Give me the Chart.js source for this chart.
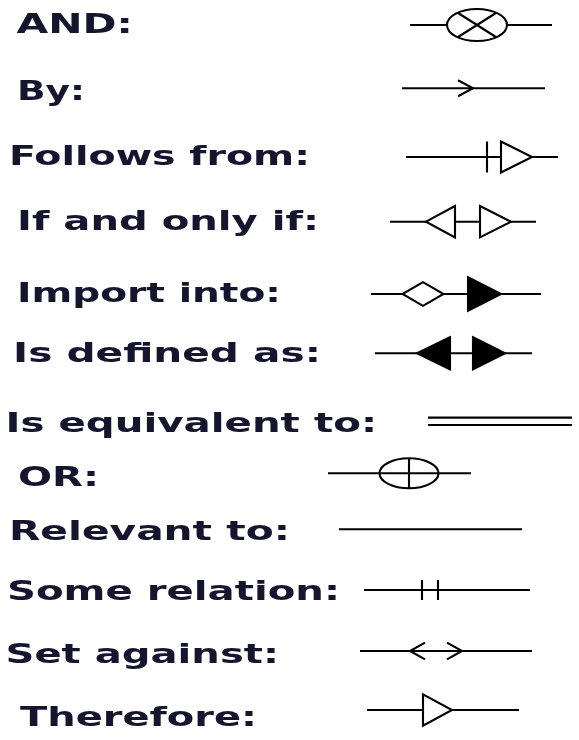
<!DOCTYPE html>
<html><head><meta charset="utf-8">
<script src="https://cdn.jsdelivr.net/npm/chart.js@4"></script>
<style>html,body{margin:0;padding:0;background:#fff;}#wrap{width:579px;height:740px;}</style>
</head><body><div id="wrap"><canvas id="c" width="579" height="740"></canvas></div>
<script>
// ---- data ----
const labels = ['AND:', 'By:', 'Follows from:', 'If and only if:', 'Import into:', 'Is defined as:',
  'Is equivalent to:', 'OR:', 'Relevant to:', 'Some relation:', 'Set against:', 'Therefore:'];
const symbols = ['and', 'by', 'follows', 'iff', 'import', 'defined',
  'equiv', 'or', 'relevant', 'some', 'setagainst', 'therefore'];

// ---- layout (positions in the 579x740 frame) ----
const rowY     = [25, 88.3, 157, 221.7, 294, 353.3, 421.3, 473.3, 529.3, 590, 651, 710];
const lineX0   = [410, 402, 406, 390, 371, 375, 428, 328, 339, 364, 360, 367];
const lineX1   = [552, 545, 558, 536, 541, 532, 572, 471, 522, 530, 532, 519];
const glyphX   = [477, 473, 501, 467.5, 423, 461.5, 500, 409, 430, 430, 436, 423];
const textX    = [16.6, 17, 9, 17, 17, 13, 5.5, 18, 9, 7, 5.5, 20];
const textX1   = [133, 85, 310, 319, 281, 321, 377, 99, 290, 340, 279, 257];
const textBase = [33.3, 100, 165, 230, 301.7, 362, 431.7, 486, 540, 600, 663.3, 726];

const INK = '#000';
const LW = 2.1;

// horizontal connecting lines as line datasets
const datasets = [];
symbols.forEach((s, i) => {
  const ys = s === 'equiv' ? [rowY[i] - 3.7, rowY[i] + 3.7] : [rowY[i]];
  ys.forEach(y => datasets.push({
    data: [{x: lineX0[i], y: y}, {x: lineX1[i], y: y}],
    showLine: true, borderColor: INK, borderWidth: LW, pointRadius: 0, fill: false
  }));
});

function tri(ctx, baseX, apexX, cy, h, filled) {
  ctx.beginPath();
  ctx.moveTo(baseX, cy - h); ctx.lineTo(apexX, cy); ctx.lineTo(baseX, cy + h); ctx.closePath();
  ctx.fillStyle = filled ? INK : '#fff';
  ctx.fill(); ctx.stroke();
}
function seg(ctx, x0, y0, x1, y1) { ctx.beginPath(); ctx.moveTo(x0, y0); ctx.lineTo(x1, y1); ctx.stroke(); }

const glyphPlugin = {
  id: 'glyphs',
  afterDatasetsDraw(chart) {
    const ctx = chart.ctx, sx = chart.scales.x, sy = chart.scales.y;
    ctx.save();
    ctx.strokeStyle = INK; ctx.lineWidth = LW; ctx.lineJoin = 'miter';
    symbols.forEach((s, i) => {
      const cx = sx.getPixelForValue(glyphX[i]), cy = sy.getPixelForValue(rowY[i]);
      if (s === 'and') {
        const rx = 30, ry = 16;
        ctx.beginPath(); ctx.ellipse(cx, cy, rx, ry, 0, 0, Math.PI * 2);
        ctx.fillStyle = '#fff'; ctx.fill(); ctx.stroke();
        const a = 50 * Math.PI / 180, dx = rx * Math.cos(a), dy = ry * Math.sin(a);
        seg(ctx, cx - dx, cy - dy, cx + dx, cy + dy);
        seg(ctx, cx - dx, cy + dy, cx + dx, cy - dy);
      } else if (s === 'by') {
        ctx.beginPath(); ctx.moveTo(cx - 15, cy - 8); ctx.lineTo(cx, cy); ctx.lineTo(cx - 15, cy + 8); ctx.stroke();
      } else if (s === 'follows') {
        seg(ctx, cx - 14, cy - 15.5, cx - 14, cy + 15.5);
        tri(ctx, cx, cx + 31, cy, 15.5, false);
      } else if (s === 'iff') {
        tri(ctx, cx - 12.5, cx - 41.5, cy, 15.7, false);
        tri(ctx, cx + 12.5, cx + 43.5, cy, 15.7, false);
      } else if (s === 'import') {
        ctx.beginPath();
        ctx.moveTo(cx - 20.5, cy); ctx.lineTo(cx, cy - 11.8); ctx.lineTo(cx + 20.5, cy); ctx.lineTo(cx, cy + 11.8); ctx.closePath();
        ctx.fillStyle = '#fff'; ctx.fill(); ctx.stroke();
        tri(ctx, cx + 45, cx + 78, cy, 16.7, true);
      } else if (s === 'defined') {
        tri(ctx, cx - 11.5, cx - 44.5, cy, 16, true);
        tri(ctx, cx + 11.5, cx + 43.5, cy, 16, true);
      } else if (s === 'or') {
        const rx = 29.5, ry = 15;
        ctx.beginPath(); ctx.ellipse(cx, cy, rx, ry, 0, 0, Math.PI * 2);
        ctx.fillStyle = '#fff'; ctx.fill(); ctx.stroke();
        seg(ctx, cx - rx, cy, cx + rx, cy);
        seg(ctx, cx, cy - ry, cx, cy + ry);
      } else if (s === 'some') {
        seg(ctx, cx - 8, cy - 10, cx - 8, cy + 10);
        seg(ctx, cx + 8, cy - 10, cx + 8, cy + 10);
      } else if (s === 'setagainst') {
        ctx.beginPath(); ctx.moveTo(cx - 11, cy - 8.3); ctx.lineTo(cx - 26, cy); ctx.lineTo(cx - 11, cy + 8.3); ctx.stroke();
        ctx.beginPath(); ctx.moveTo(cx + 11, cy - 8.3); ctx.lineTo(cx + 26, cy); ctx.lineTo(cx + 11, cy + 8.3); ctx.stroke();
      } else if (s === 'therefore') {
        tri(ctx, cx, cx + 29, cy, 15.7, false);
      }
    });
    // labels
    ctx.fillStyle = '#15152e';
    ctx.font = 'bold 27px "DejaVu Sans"';
    ctx.textBaseline = 'alphabetic';
    labels.forEach((t, i) => {
      const x0 = sx.getPixelForValue(textX[i]), x1 = sx.getPixelForValue(textX1[i]);
      const y = sy.getPixelForValue(textBase[i]);
      const w = ctx.measureText(t).width;
      ctx.save();
      ctx.translate(x0, y);
      ctx.scale((x1 - x0) / w, 1);
      ctx.fillText(t, 0, 0);
      ctx.restore();
    });
    ctx.restore();
  }
};

new Chart(document.getElementById('c'), {
  type: 'scatter',
  data: { datasets },
  options: {
    responsive: false, animation: false,
    layout: { padding: 0 },
    scales: {
      x: { type: 'linear', min: 0, max: 579, display: false },
      y: { type: 'linear', min: 0, max: 740, reverse: true, display: false }
    },
    plugins: { legend: { display: false }, tooltip: { enabled: false } }
  },
  plugins: [glyphPlugin]
});
</script></body></html>
